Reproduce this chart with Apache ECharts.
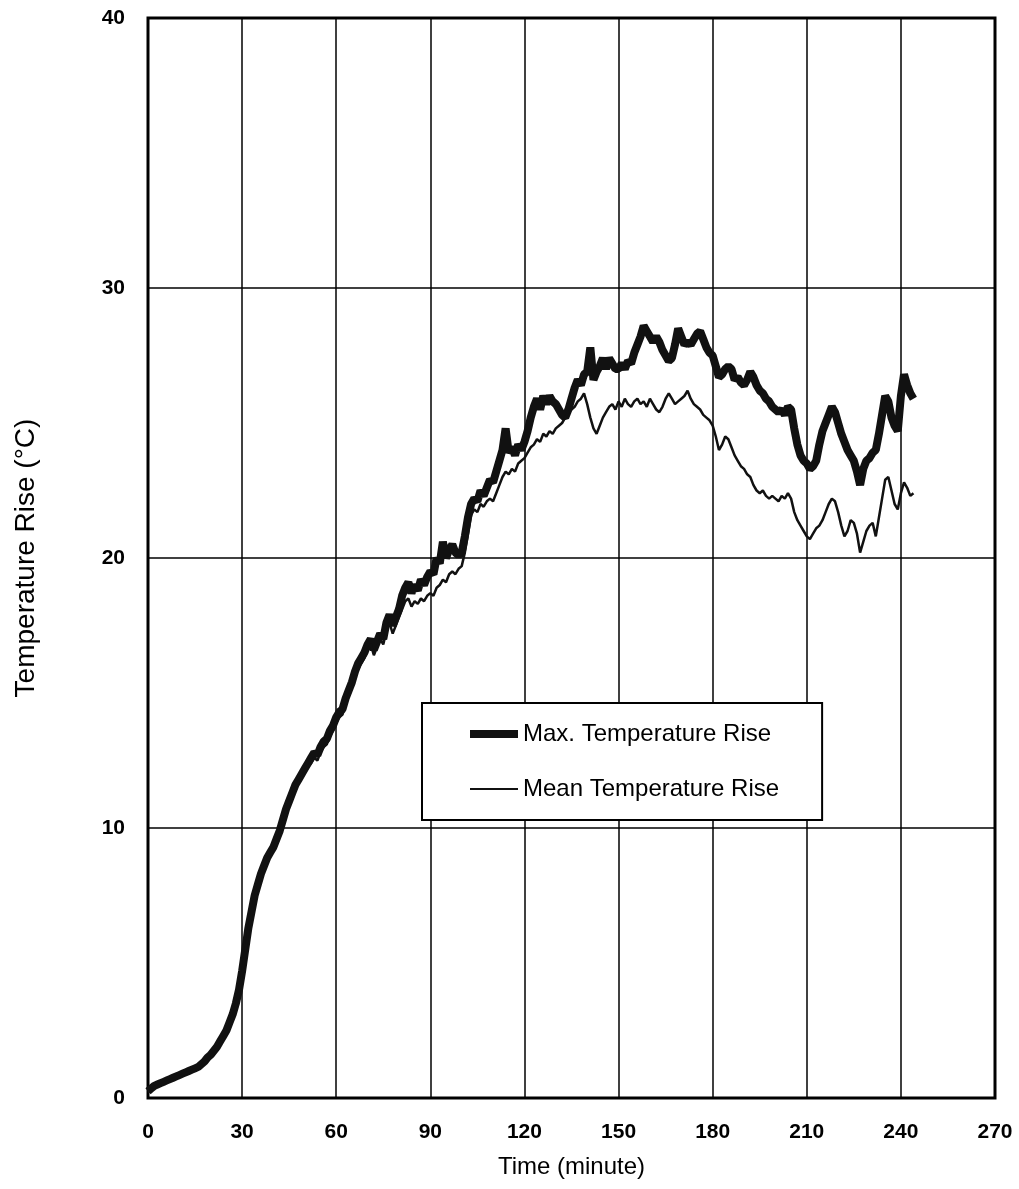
<!DOCTYPE html>
<html><head><meta charset="utf-8">
<script src="https://cdn.jsdelivr.net/npm/echarts@6/dist/echarts.min.js"></script>
<style>html,body{margin:0;padding:0;background:#fff}#c{width:1019px;height:1189px}</style>
</head><body><div id="c"></div>
<script>
const timeMinutes = [
0,1,2,3,4,5,6,7,8,9,
10,11,12,13,14,15,16,17,18,19,
20,21,22,23,24,25,26,27,28,29,
30,31,32,33,34,35,36,37,38,39,
40,41,42,43,44,45,46,47,48,49,
50,51,52,53,54,55,56,57,58,59,
60,61,62,63,64,65,66,67,68,69,
70,71,72,73,74,75,76,77,78,79,
80,81,82,83,84,85,86,87,88,89,
90,91,92,93,94,95,96,97,98,99,
100,101,102,103,104,105,106,107,108,109,
110,111,112,113,114,115,116,117,118,119,
120,121,122,123,124,125,126,127,128,129,
130,131,132,133,134,135,136,137,138,139,
140,141,142,143,144,145,146,147,148,149,
150,151,152,153,154,155,156,157,158,159,
160,161,162,163,164,165,166,167,168,169,
170,171,172,173,174,175,176,177,178,179,
180,181,182,183,184,185,186,187,188,189,
190,191,192,193,194,195,196,197,198,199,
200,201,202,203,204,205,206,207,208,209,
210,211,212,213,214,215,216,217,218,219,
220,221,222,223,224,225,226,227,228,229,
230,231,232,233,234,235,236,237,238,239,
240,241,242,243,244];

const maxRise = [
0.25,0.35,0.45,0.5,0.55,0.6,0.65,0.7,0.75,0.8,
0.85,0.9,0.95,1.0,1.05,1.1,1.15,1.25,1.35,1.5,
1.6,1.75,1.9,2.1,2.3,2.5,2.8,3.1,3.5,4.0,
4.7,5.5,6.3,6.9,7.5,7.9,8.3,8.6,8.9,9.1,
9.3,9.6,9.9,10.3,10.7,11.0,11.3,11.6,11.8,12.0,
12.2,12.4,12.6,12.8,12.7,13.0,13.2,13.3,13.6,13.8,
14.1,14.3,14.4,14.8,15.1,15.4,15.8,16.1,16.3,16.5,
16.8,17.0,16.6,16.9,17.2,17.0,17.6,17.9,17.5,17.8,
18.1,18.6,18.9,19.1,18.7,19.0,18.8,19.2,19.0,19.3,
19.5,19.4,20.0,19.8,20.6,20.0,20.3,20.5,20.2,20.1,
20.2,20.8,21.5,22.0,22.2,22.1,22.5,22.3,22.6,22.9,
22.8,23.2,23.6,24.0,24.8,23.9,24.1,23.8,24.2,24.0,
24.3,24.7,25.2,25.6,25.9,25.5,26.0,25.7,26.0,25.8,
25.7,25.5,25.3,25.2,25.5,25.9,26.3,26.6,26.4,26.8,
26.9,27.8,26.6,26.9,27.1,27.4,27.0,27.4,27.2,27.0,
27.0,27.2,27.0,27.3,27.2,27.6,27.9,28.2,28.6,28.4,
28.2,28.0,28.2,28.0,27.7,27.5,27.3,27.4,27.9,28.5,
28.2,27.9,28.0,27.9,28.1,28.3,28.4,28.1,27.8,27.6,
27.5,27.1,26.7,26.8,27.0,27.1,27.0,26.6,26.7,26.5,
26.4,26.6,26.9,26.7,26.4,26.2,26.1,25.9,25.8,25.6,
25.5,25.4,25.5,25.3,25.6,25.5,24.8,24.2,23.8,23.6,
23.5,23.3,23.4,23.6,24.2,24.7,25.0,25.3,25.6,25.4,
25.0,24.6,24.3,24.0,23.8,23.6,23.2,22.7,23.3,23.6,
23.7,23.9,24.0,24.6,25.3,26.0,25.8,25.2,24.9,24.7,
26.0,26.8,26.4,26.1,25.9];

const meanRise = [
0.2,0.3,0.4,0.45,0.5,0.55,0.6,0.65,0.7,0.75,
0.8,0.85,0.9,0.95,1.0,1.05,1.1,1.2,1.3,1.4,
1.5,1.65,1.8,2.0,2.2,2.4,2.7,3.0,3.4,3.9,
4.6,5.4,6.2,6.8,7.4,7.8,8.2,8.5,8.8,9.0,
9.2,9.5,9.8,10.2,10.6,10.9,11.2,11.5,11.7,11.9,
12.1,12.3,12.4,12.6,12.5,12.8,13.0,13.1,13.4,13.6,
13.9,14.1,14.2,14.6,14.9,15.2,15.6,15.9,16.1,16.3,
16.6,16.8,16.4,16.7,17.0,16.8,17.3,17.6,17.2,17.5,
17.8,18.1,18.4,18.5,18.2,18.4,18.3,18.5,18.4,18.6,
18.7,18.6,18.9,19.0,19.2,19.1,19.4,19.5,19.4,19.6,
19.7,20.2,20.9,21.6,21.8,21.7,22.0,21.9,22.1,22.2,
22.1,22.4,22.7,23.0,23.2,23.1,23.3,23.2,23.5,23.6,
23.7,23.9,24.1,24.2,24.4,24.3,24.6,24.5,24.7,24.6,
24.8,24.9,25.0,25.2,25.4,25.5,25.6,25.8,25.9,26.1,
25.7,25.2,24.8,24.6,24.9,25.2,25.4,25.6,25.7,25.5,
25.8,25.6,25.9,25.7,25.6,25.8,25.9,25.7,25.8,25.6,
25.9,25.7,25.5,25.4,25.6,25.9,26.1,25.9,25.7,25.8,
25.9,26.0,26.2,25.9,25.7,25.6,25.5,25.3,25.2,25.1,
24.9,24.5,24.0,24.2,24.5,24.4,24.1,23.8,23.6,23.4,
23.3,23.1,23.0,22.7,22.5,22.4,22.5,22.3,22.2,22.3,
22.2,22.1,22.3,22.2,22.4,22.2,21.7,21.4,21.2,21.0,
20.8,20.7,20.9,21.1,21.2,21.4,21.7,22.0,22.2,22.1,
21.7,21.2,20.8,21.0,21.4,21.3,20.9,20.2,20.6,21.0,
21.2,21.3,20.8,21.5,22.2,22.9,23.0,22.5,22.0,21.8,
22.4,22.8,22.6,22.3,22.4];

const seriesNames = ['Max. Temperature Rise', 'Mean Temperature Rise'];
const xAxisTitle = 'Time (minute)';
const yAxisTitle = 'Temperature Rise (°C)';

const FONT = '"Liberation Sans", Arial, sans-serif';
const pairs = (ys) => timeMinutes.map((t, i) => [t, ys[i]]);

const chart = echarts.init(document.getElementById('c'), null, {renderer: 'canvas'});
chart.setOption({
  animation: false,
  backgroundColor: '#fff',
  grid: {left: 148, top: 18, right: 24, bottom: 91, show: true, borderColor: '#000', borderWidth: 3, backgroundColor: 'transparent'},
  xAxis: {
    type: 'value', min: 0, max: 270, interval: 30,
    name: xAxisTitle, nameLocation: 'middle', nameGap: 57,
    nameTextStyle: {fontFamily: FONT, fontSize: 24, color: '#000'},
    axisLine: {show: false}, axisTick: {show: false},
    axisLabel: {fontFamily: FONT, fontSize: 21, fontWeight: 'bold', color: '#000', margin: 24},
    splitLine: {show: true, lineStyle: {color: '#000', width: 1.5}}
  },
  yAxis: {
    type: 'value', min: 0, max: 40, interval: 10,
    name: yAxisTitle, nameLocation: 'middle', nameGap: 108,
    nameTextStyle: {fontFamily: FONT, fontSize: 28, color: '#000'},
    axisLine: {show: false}, axisTick: {show: false},
    axisLabel: {fontFamily: FONT, fontSize: 21, fontWeight: 'bold', color: '#000', margin: 23},
    splitLine: {show: true, lineStyle: {color: '#000', width: 1.5}}
  },
  legend: {
    orient: 'vertical', left: 422, top: 703,
    backgroundColor: '#fff', borderColor: '#000', borderWidth: 2,
    padding: [19, 43, 19, 48], itemGap: 31, itemWidth: 48, itemHeight: 14,
    symbolKeepAspect: true,
    textStyle: {fontFamily: FONT, fontSize: 24, color: '#000'},
    data: [
      {name: seriesNames[0], icon: 'path://M0 0H48V8H0Z', itemStyle: {color: '#111'}},
      {name: seriesNames[1], icon: 'path://M0 0H48V2H0Z', itemStyle: {color: '#111'}}
    ]
  },
  series: [
    {name: seriesNames[0], type: 'line', data: pairs(maxRise), symbol: 'none', smooth: false,
     lineStyle: {color: '#111', width: 8}, itemStyle: {color: '#111'}, z: 3},
    {name: seriesNames[1], type: 'line', data: pairs(meanRise), symbol: 'none', smooth: false,
     lineStyle: {color: '#111', width: 2.5}, itemStyle: {color: '#111'}, z: 4}
  ]
});
</script></body></html>
